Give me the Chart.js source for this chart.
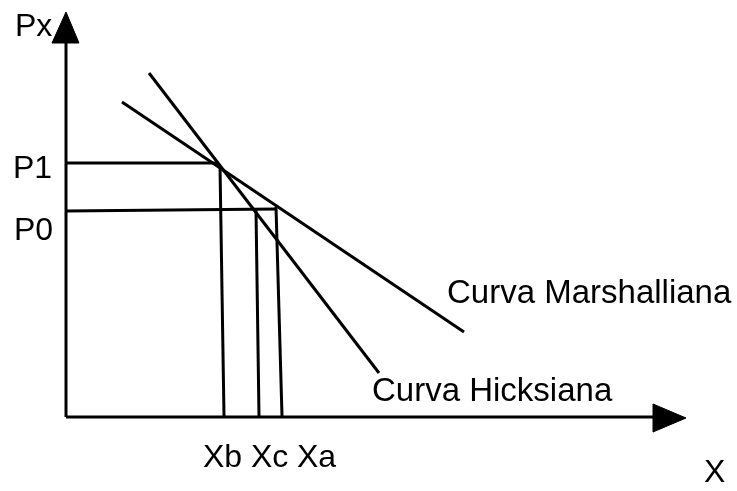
<!DOCTYPE html>
<html>
<head>
<meta charset="utf-8">
<script src="https://cdn.jsdelivr.net/npm/chart.js@4.4.1/dist/chart.umd.min.js"></script>
<style>
  html, body { margin: 0; padding: 0; background: #fff; }
  canvas { display: block; }
</style>
</head>
<body>
<canvas id="chart" width="737" height="491"></canvas>
<script>
// Quantity (X) and price (Px) units, origin where the two axes meet
const hicksX = [83, 313];
const hicksY = [344, 44];
const marshX = [56, 398];
const marshY = [315, 85];

// price levels: [left end, right end] of each horizontal guide
const priceLabels = ['P1', 'P0'];
const priceY = [[254, 254], [206, 208]];
const priceEndX = [152, 211];

// quantity levels: [top, bottom] x of each vertical guide
const qtyLabels = ['Xb', 'Xc', 'Xa'];
const qtyX = [[154, 158], [190, 193], [210, 216]];
const qtyTopY = [251, 207, 210];

const axisLenX = 587;
const axisLenY = 374;

const curveLabels = ['Curva Marshalliana', 'Curva Hicksiana'];

const line = (points, width = 3) => ({
  data: points,
  showLine: true,
  borderColor: '#000',
  borderWidth: width,
  pointRadius: 0,
  fill: false,
  tension: 0,
});

const arrow = (points) => ({
  data: points,
  showLine: true,
  borderColor: '#000',
  backgroundColor: '#000',
  borderWidth: 1,
  pointRadius: 0,
  fill: 'shape',
  tension: 0,
});

const datasets = [
  line([{ x: 0, y: 0 }, { x: 0, y: axisLenY }]),
  line([{ x: 0, y: 0 }, { x: axisLenX, y: 0 }]),
  arrow([{ x: -14, y: axisLenY }, { x: 0, y: 405 }, { x: 13, y: axisLenY }, { x: -14, y: axisLenY }]),
  arrow([{ x: axisLenX, y: 13 }, { x: 620, y: -1 }, { x: axisLenX, y: -15 }, { x: axisLenX, y: 13 }]),
  line(hicksX.map((x, i) => ({ x, y: hicksY[i] }))),
  line(marshX.map((x, i) => ({ x, y: marshY[i] }))),
];

priceY.forEach((ys, i) => {
  datasets.push(line([{ x: 0, y: ys[0] }, { x: priceEndX[i], y: ys[1] }]));
});
qtyX.forEach((xs, i) => {
  datasets.push(line([{ x: xs[0], y: qtyTopY[i] }, { x: xs[1], y: 1 }]));
});

// text placed in data units: [text, x, y(baseline)]
const texts = [
  ['Px', -51, 381],
  [priceLabels[0], -53, 239],
  [priceLabels[1], -52, 177],
  [qtyLabels[0], 137, -50],
  [qtyLabels[1], 185, -50],
  [qtyLabels[2], 231, -50],
  ['X', 638, -65],
  [curveLabels[0], 381, 114],
  [curveLabels[1], 306, 16],
];

const textPlugin = {
  id: 'diagramText',
  afterDraw(chart) {
    const { ctx, scales } = chart;
    ctx.save();
    ctx.fillStyle = '#000';
    ctx.textAlign = 'left';
    ctx.textBaseline = 'alphabetic';
    texts.forEach(([t, x, y]) => {
      ctx.font = t.startsWith('Curva') ? '33px "Liberation Sans", Arial, sans-serif' : '32px "Liberation Sans", Arial, sans-serif';
      ctx.fillText(t, scales.x.getPixelForValue(x), scales.y.getPixelForValue(y));
    });
    ctx.restore();
  },
};

new Chart(document.getElementById('chart').getContext('2d'), {
  type: 'scatter',
  data: { datasets },
  options: {
    responsive: false,
    animation: false,
    devicePixelRatio: 1,
    layout: { padding: 0 },
    scales: {
      x: { type: 'linear', min: -66, max: 671, display: false },
      y: { type: 'linear', min: -74, max: 417, display: false },
    },
    plugins: {
      legend: { display: false },
      tooltip: { enabled: false },
    },
  },
  plugins: [textPlugin],
});
</script>
</body>
</html>
